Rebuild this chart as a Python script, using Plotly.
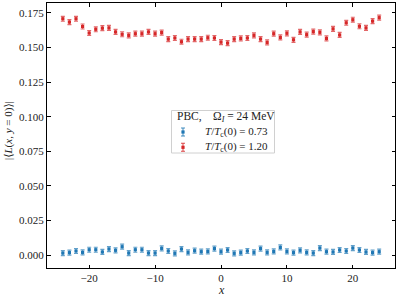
import plotly.graph_objects as go

x_vals = list(range(-24, 25))

red_vals = [0.1708, 0.1684, 0.1708, 0.1652, 0.1605, 0.1632, 0.1640, 0.1642, 0.1613,
            0.1596, 0.1588, 0.1600, 0.1600, 0.1613, 0.1600, 0.1608, 0.1561, 0.1569,
            0.1542, 0.1561, 0.1561, 0.1561, 0.1571, 0.1569, 0.1539, 0.1532, 0.1561,
            0.1566, 0.1569, 0.1588, 0.1561, 0.1537, 0.1600, 0.1573, 0.1603, 0.1556,
            0.1613, 0.1593, 0.1615, 0.1610, 0.1566, 0.1635, 0.1591, 0.1679, 0.1701,
            0.1654, 0.1642, 0.1691, 0.1716]
red_err = [0.0018] * 49

blue_vals = [0.0014, 0.0017, 0.0029, 0.0019, 0.0038, 0.0038, 0.0022, 0.0043, 0.0034,
             0.0060, 0.0014, 0.0038, 0.0038, 0.0014, 0.0014, 0.0048, 0.0029, 0.0012,
             0.0043, 0.0019, 0.0031, 0.0024, 0.0026, 0.0046, 0.0024, 0.0036, 0.0012,
             0.0017, 0.0029, 0.0019, 0.0046, 0.0019, 0.0026, 0.0055, 0.0026, 0.0017,
             0.0034, 0.0019, 0.0014, 0.0050, 0.0024, 0.0022, 0.0036, 0.0029, 0.0050,
             0.0036, 0.0022, 0.0017, 0.0024]
blue_err = [0.0018] * 49

y_ticks = [0.0, 0.025, 0.05, 0.075, 0.1, 0.125, 0.15, 0.175]
y_tick_text = ["0.000", "0.025", "0.050", "0.075", "0.100", "0.125", "0.150", "0.175"]
x_ticks = [-20, -10, 0, 10, 20]

legend_title = "PBC,    Ω<sub><i>I</i></sub> = 24 MeV"
series_names = ["<i>T</i>/<i>T</i><sub>c</sub>(0) = 0.73",
                "<i>T</i>/<i>T</i><sub>c</sub>(0) = 1.20"]
series_colors = ["#1f77b4", "#d62728"]
series_err_colors = ["rgba(31,119,180,0.7)", "rgba(214,39,40,0.7)"]

FONT = "Liberation Serif, DejaVu Serif, serif"
W, H = 399, 299
ML, MR, MT, MB = 47, 4, 3, 31
PW, PH = W - ML - MR, H - MT - MB


def px(x):
    return (x - ML) / PW


def py(y):
    return 1 - (y - MT) / PH


fig = go.Figure()
for vals, errs, name, col, ecol in [(blue_vals, blue_err, series_names[0], series_colors[0], series_err_colors[0]),
                                    (red_vals, red_err, series_names[1], series_colors[1], series_err_colors[1])]:
    fig.add_trace(go.Scatter(
        x=x_vals, y=vals, mode="markers", name=name, showlegend=False,
        marker=dict(symbol="square", size=3.2, color=col),
        error_y=dict(type="data", array=errs, visible=True,
                     color=ecol, thickness=1.2, width=2),
    ))

axis_common = dict(
    showgrid=False, zeroline=False, showline=True, linecolor="black", linewidth=1,
    mirror="ticks", ticks="inside", ticklen=3.5, tickwidth=0.8, tickcolor="black",
    tickfont=dict(family=FONT, size=11, color="#222"), automargin=False,
)

fig.update_xaxes(range=[-26.4, 26.4], tickvals=x_ticks, **axis_common)
fig.update_yaxes(range=[-0.0094, 0.1822], tickvals=y_ticks, ticktext=y_tick_text, **axis_common)

annotations = [
    dict(text="<i>x</i>", x=px(221), y=py(290), xref="paper", yref="paper",
         showarrow=False, font=dict(family=FONT, size=12, color="#222"),
         xanchor="center", yanchor="middle"),
    dict(text="|⟨<i>L</i>(<i>x</i>, <i>y</i> = 0)⟩|", x=px(8), y=py(131), xref="paper", yref="paper",
         showarrow=False, textangle=-90, font=dict(family=FONT, size=11, color="#222"),
         xanchor="center", yanchor="middle"),
]

# manual legend
shapes = [dict(type="rect", xref="paper", yref="paper",
               x0=px(171.5), x1=px(274.5), y0=py(153), y1=py(110.5),
               line=dict(color="#d0d0d0", width=1), fillcolor="rgba(255,255,255,0.85)", layer="above")]
annotations.append(dict(text=legend_title, x=px(175), y=py(116.5), xref="paper", yref="paper",
                        showarrow=False, font=dict(family=FONT, size=11.5, color="#222"),
                        xanchor="left", yanchor="middle"))
for i, (name, col, ecol) in enumerate(zip(series_names, series_colors, series_err_colors)):
    cy = 132 + 15.3 * i
    cx = 183
    shapes.append(dict(type="line", xref="paper", yref="paper", x0=px(cx), x1=px(cx),
                       y0=py(cy - 4), y1=py(cy + 4), line=dict(color=ecol, width=1.2), layer="above"))
    for dy in (-4, 4):
        shapes.append(dict(type="line", xref="paper", yref="paper", x0=px(cx - 2), x1=px(cx + 2),
                           y0=py(cy + dy), y1=py(cy + dy), line=dict(color=ecol, width=1.2), layer="above"))
    shapes.append(dict(type="rect", xref="paper", yref="paper", x0=px(cx - 1.6), x1=px(cx + 1.6),
                       y0=py(cy + 1.6), y1=py(cy - 1.6), line=dict(width=0), fillcolor=col, layer="above"))
    annotations.append(dict(text=name, x=px(203), y=py(cy), xref="paper", yref="paper",
                            showarrow=False, font=dict(family=FONT, size=11, color="#222"),
                            xanchor="left", yanchor="middle"))

fig.update_layout(
    width=W, height=H,
    margin=dict(l=ML, r=MR, t=MT, b=MB),
    plot_bgcolor="white", paper_bgcolor="white",
    font=dict(family=FONT, size=11, color="#222"),
    showlegend=False,
    annotations=annotations, shapes=shapes,
)

fig.write_html("out.html", config={"displayModeBar": False},
               post_script="document.body.style.margin='0';document.body.style.overflow='hidden';")
